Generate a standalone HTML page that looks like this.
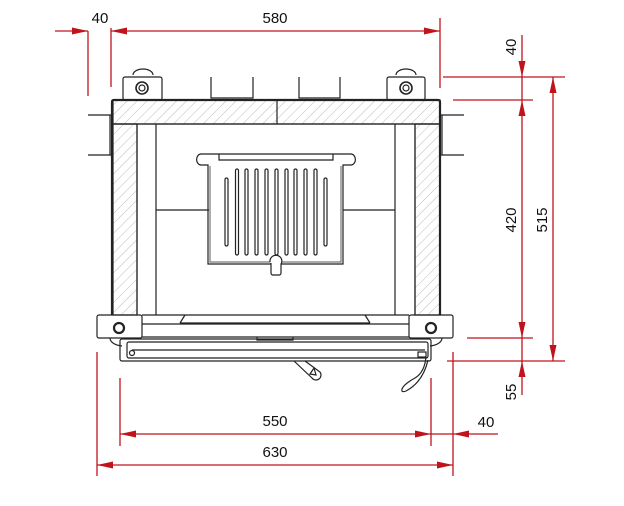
<!DOCTYPE html>
<html><head><meta charset="utf-8"><style>
html,body{margin:0;padding:0;background:#fff;}
svg{display:block;}
text{font-family:"Liberation Sans",sans-serif;font-size:15px;fill:#111;}
</style></head><body>
<svg width="624" height="506" viewBox="0 0 624 506" xmlns="http://www.w3.org/2000/svg">
<defs>
<pattern id="h" width="7" height="7" patternUnits="userSpaceOnUse" patternTransform="rotate(45)">
<line x1="0" y1="0" x2="0" y2="7" stroke="#aaa" stroke-width="0.8"/>
</pattern>
<marker id="a" viewBox="0 0 16 7" refX="16" refY="3.5" markerWidth="16" markerHeight="7" orient="auto-start-reverse" markerUnits="userSpaceOnUse">
<path d="M0,0 L16,3.5 L0,7 z" fill="#c0141c"/>
</marker>
</defs>
<g fill="none" stroke="#222" stroke-width="1.2">
<!-- top nut boxes -->
<path d="M133,75 a10,6 0 0 1 20,0" />
<rect x="123" y="77" width="39" height="23" rx="2"/>
<circle cx="142" cy="88" r="6" stroke-width="1.6"/><circle cx="142" cy="88" r="3"/>
<path d="M396,75 a10,6 0 0 1 20,0" />
<rect x="387" y="77" width="38" height="23" rx="2"/>
<circle cx="406" cy="88" r="6" stroke-width="1.6"/><circle cx="406" cy="88" r="3"/>
<!-- U brackets -->
<path d="M211,77 V98 H253 V77"/><path d="M299,77 V98 H340 V77"/>
<!-- side brackets -->
<path d="M88,115 H112 M88,155 H112 M110,115 V155"/>
<path d="M464,115 H440 M464,155 H440 M442,115 V155"/>
<!-- hatched walls -->
<rect x="113" y="100" width="327" height="24" fill="url(#h)"/>
<rect x="113" y="124" width="24" height="191" fill="url(#h)"/>
<rect x="415" y="124" width="25" height="191" fill="url(#h)"/>
<path d="M112,315 V102 Q112,100 114,100 H438 Q440,100 440,102 V315" stroke-width="2.2"/>
<path d="M113,124 H440 M277,100 V124 M137,124 V315 M156,124 V315 M395,124 V315 M415,124 V315"/>
<path d="M156,210 H209 M343,210 H395"/>
<!-- grate -->
<path d="M201,154 H351 a4,5 0 0 1 0,11 H343 V264 H208 V165 H201 a4,5 0 0 1 0,-11 z"/>
<path d="M219,154 V160 H333 V154"/>
<path d="M210,166 V262 H341 V166" stroke="#777"/>
<g>
<rect x="225" y="178" width="3" height="68" rx="1.5"/>
<rect x="235.5" y="169" width="3" height="86" rx="1.5"/>
<rect x="245" y="169" width="3" height="86" rx="1.5"/>
<rect x="255" y="169" width="3" height="86" rx="1.5"/>
<rect x="265" y="169" width="3" height="86" rx="1.5"/>
<rect x="275" y="169" width="3" height="86" rx="1.5"/>
<rect x="285" y="169" width="3" height="86" rx="1.5"/>
<rect x="294" y="169" width="3" height="86" rx="1.5"/>
<rect x="304" y="169" width="3" height="86" rx="1.5"/>
<rect x="314" y="169" width="3" height="86" rx="1.5"/>
<rect x="324" y="178" width="3" height="68" rx="1.5"/>
</g>
<path d="M270,262 a6,6 0 0 1 11,-4 a6,6 0 0 1 0,6 V273 a2,2 0 0 1 -2,2 H273 a2,2 0 0 1 -2,-2 V263" fill="#fff"/>
<!-- bottom corner blocks -->
<path d="M110,338 a14,8 0 0 0 12,8"/>
<rect x="97" y="315" width="45" height="23" rx="2"/>
<circle cx="119" cy="328" r="5" stroke-width="2.2"/>
<path d="M442,338 a14,8 0 0 1 -12,8"/>
<rect x="409" y="315" width="44" height="23" rx="2"/>
<circle cx="431" cy="328" r="5" stroke-width="2.2"/>
<!-- front bar -->
<path d="M142,315 H409 M142,324 H409 M142,337 H409"/>
<path d="M180,323 L185,315 M370,323 L365,315 M180,323 H370"/>
<path d="M257,337 V340 H293 V337"/>
<!-- door -->
<rect x="120" y="339" width="311" height="22" rx="2"/>
<rect x="127" y="342" width="301" height="16" rx="2"/>
<circle cx="132" cy="353" r="2.5"/>
<path d="M132,350 H425"/>
<rect x="418" y="352" width="8" height="5"/>
<!-- handle -->
<path d="M294,361 L312,378 a5,5 0 0 0 8,-6 L305,361"/>
<path d="M310,374 L314,368 L316,375 z"/>
<path d="M426,356 Q425,372 415,378 Q404,384 402,389 Q401,393 406,391 Q423,382 428,360" />
</g>
<!-- dimensions -->
<g stroke="#c0141c" stroke-width="1.3" fill="none">
<line x1="88" y1="31" x2="88" y2="96"/>
<line x1="111" y1="28" x2="111" y2="87"/>
<line x1="440" y1="18" x2="440" y2="88"/>
<line x1="55" y1="31" x2="88" y2="31" marker-end="url(#a)"/>
<line x1="111" y1="31" x2="440" y2="31" marker-start="url(#a)" marker-end="url(#a)"/>
<line x1="443" y1="77" x2="565" y2="77"/>
<line x1="453" y1="100" x2="533" y2="100"/>
<line x1="467" y1="338" x2="533" y2="338"/>
<line x1="447" y1="361" x2="565" y2="361"/>
<line x1="522" y1="35" x2="522" y2="77" marker-end="url(#a)"/>
<line x1="522" y1="77" x2="522" y2="100"/>
<line x1="522" y1="100" x2="522" y2="338" marker-start="url(#a)" marker-end="url(#a)"/>
<line x1="522" y1="338" x2="522" y2="361"/>
<line x1="522" y1="395" x2="522" y2="361" marker-end="url(#a)"/>
<line x1="553" y1="77" x2="553" y2="361" marker-start="url(#a)" marker-end="url(#a)"/>
<line x1="120" y1="378" x2="120" y2="446"/>
<line x1="431" y1="378" x2="431" y2="446"/>
<line x1="453" y1="352" x2="453" y2="476"/>
<line x1="97" y1="352" x2="97" y2="476"/>
<line x1="120" y1="434" x2="431" y2="434" marker-start="url(#a)" marker-end="url(#a)"/>
<line x1="431" y1="434" x2="453" y2="434"/>
<line x1="498" y1="434" x2="453" y2="434" marker-end="url(#a)"/>
<line x1="97" y1="465" x2="453" y2="465" marker-start="url(#a)" marker-end="url(#a)"/>
</g>
<text x="100" y="23" text-anchor="middle">40</text>
<text x="275" y="23" text-anchor="middle">580</text>
<text x="275" y="426" text-anchor="middle">550</text>
<text x="275" y="457" text-anchor="middle">630</text>
<text x="486" y="427" text-anchor="middle">40</text>
<text transform="translate(516,47) rotate(-90)" text-anchor="middle">40</text>
<text transform="translate(516,220) rotate(-90)" text-anchor="middle">420</text>
<text transform="translate(547,220) rotate(-90)" text-anchor="middle">515</text>
<text transform="translate(516,392) rotate(-90)" text-anchor="middle">55</text>
</svg>
</body></html>
